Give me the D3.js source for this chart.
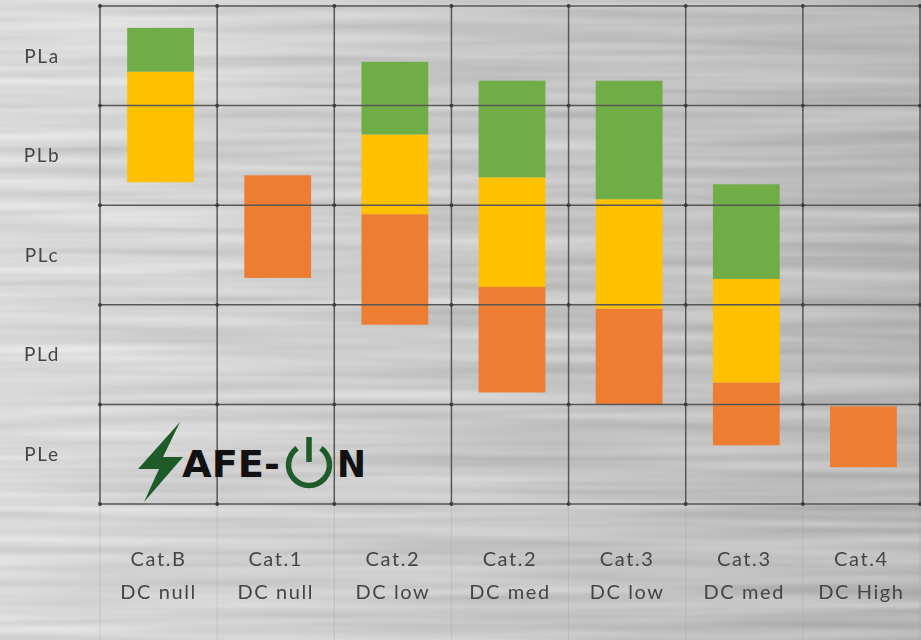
<!DOCTYPE html>
<html>
<head>
<meta charset="utf-8">
<script src="https://cdn.jsdelivr.net/npm/d3@7"></script>
<style>
  html, body { margin: 0; padding: 0; background: #cfcfcf; }
  svg { display: block; }
</style>
</head>
<body>
<svg id="chart" width="921" height="640"></svg>
<script>
// Performance levels (top to bottom) and the seven architecture columns
const levels = ["PLa", "PLb", "PLc", "PLd", "PLe"];
const catLabels = ["Cat.B", "Cat.1", "Cat.2", "Cat.2", "Cat.3", "Cat.3", "Cat.4"];
const dcLabels = ["DC null", "DC null", "DC low", "DC med", "DC low", "DC med", "DC High"];

// Floating ranges per column on a 0..5 level scale (0 = bottom of PLe, 5 = top of PLa)
const orangeRange = [null, [2.27, 3.30], [1.80, 2.91], [1.12, 2.18], [1.00, 1.96], [0.59, 1.22], [0.37, 0.98]];
const yellowRange = [[3.23, 4.34], null, [2.91, 3.71], [2.18, 3.28], [1.96, 3.06], [1.22, 2.26], null];
const greenRange  = [[4.34, 4.78], null, [3.71, 4.44], [3.28, 4.25], [3.06, 4.25], [2.26, 3.21], null];

const seriesColors = { orange: "#ED7D31", yellow: "#FFC000", green: "#70AD47" };

const W = 921, H = 640;
const plot = { left: 100, right: 920, top: 6, bottom: 504 };

const svg = d3.select("#chart");
const defs = svg.append("defs");

// brushed-metal backdrop: horizontal gradient plus stretched noise streaks
const bgGrad = defs.append("linearGradient").attr("id", "bgGrad")
  .attr("x1", 0).attr("x2", 1).attr("y1", 0).attr("y2", 0);
[[0, "#dadada"], [0.12, "#d7d7d7"], [0.45, "#cbcbcb"], [0.75, "#c1c1c1"], [1, "#b7b7b7"]]
  .forEach(([o, c]) => bgGrad.append("stop").attr("offset", o).attr("stop-color", c));

const streak = defs.append("filter").attr("id", "streak")
  .attr("x", 0).attr("y", 0).attr("width", 1).attr("height", 1)
  .attr("color-interpolation-filters", "sRGB");
streak.append("feTurbulence").attr("type", "fractalNoise")
  .attr("baseFrequency", "0.003 0.09").attr("numOctaves", 2).attr("seed", 7).attr("result", "noise");
streak.append("feGaussianBlur").attr("in", "noise").attr("stdDeviation", "8 0.7").attr("result", "noiseSoft");
streak.append("feColorMatrix").attr("in", "noiseSoft").attr("type", "matrix")
  .attr("values", "1 0 0 0 0  1 0 0 0 0  1 0 0 0 0  0 0 0 0 1").attr("result", "grey");
streak.append("feComposite").attr("in", "SourceGraphic").attr("in2", "grey")
  .attr("operator", "arithmetic").attr("k1", 0).attr("k2", 1).attr("k3", 0.2).attr("k4", -0.1);

const soft = defs.append("filter").attr("id", "soft")
  .attr("x", "-5%").attr("y", "-5%").attr("width", "110%").attr("height", "110%");
soft.append("feGaussianBlur").attr("stdDeviation", 0.6);

svg.append("rect").attr("width", W).attr("height", H)
  .attr("fill", "url(#bgGrad)").attr("filter", "url(#streak)");

// scales
const x = d3.scaleBand().domain(d3.range(catLabels.length))
  .range([plot.left, plot.right]).paddingInner(0.43).paddingOuter(0.215);
const col = d3.scaleBand().domain(d3.range(catLabels.length))
  .range([plot.left, plot.right]).padding(0);
const y = d3.scaleLinear().domain([0, levels.length]).range([plot.bottom, plot.top]);
const levelCenter = i => y(levels.length - i - 0.5);

// faint column guides running through the label area
const guides = svg.append("g");
d3.range(catLabels.length + 1).forEach(i => {
  const gx = i < catLabels.length ? col(i) : plot.right;
  guides.append("line").attr("x1", gx).attr("x2", gx)
    .attr("y1", plot.bottom).attr("y2", H)
    .attr("stroke", "#a8a8a8").attr("stroke-opacity", 0.4).attr("stroke-width", 1);
});

// bars
const bars = svg.append("g");
const drawSeries = (ranges, color) => {
  bars.selectAll(null)
    .data(ranges.map((r, i) => ({ r, i })).filter(d => d.r))
    .join("rect")
    .attr("x", d => x(d.i) + 2)
    .attr("width", x.bandwidth())
    .attr("y", d => y(d.r[1]))
    .attr("height", d => y(d.r[0]) - y(d.r[1]))
    .attr("fill", color);
};
drawSeries(orangeRange, seriesColors.orange);
drawSeries(yellowRange, seriesColors.yellow);
drawSeries(greenRange, seriesColors.green);

// grid
const grid = svg.append("g").attr("filter", "url(#soft)");
const xs = d3.range(catLabels.length).map(i => col(i)).concat([plot.right]);
const ys = d3.range(levels.length + 1).map(v => y(v));
grid.selectAll(".v").data(xs).join("line")
  .attr("x1", d => d).attr("x2", d => d).attr("y1", plot.top).attr("y2", plot.bottom)
  .attr("stroke", "#575757").attr("stroke-width", 1.5);
grid.selectAll(".h").data(ys).join("line")
  .attr("x1", plot.left).attr("x2", plot.right).attr("y1", d => d).attr("y2", d => d)
  .attr("stroke", "#575757").attr("stroke-width", 1.5);
xs.forEach(gx => ys.forEach(gy => {
  grid.append("circle").attr("cx", gx).attr("cy", gy).attr("r", 1.9).attr("fill", "#3a3a3a");
}));

// level labels
const text = svg.append("g").attr("filter", "url(#soft)")
  .attr("font-family", "Lato, 'Open Sans', sans-serif").attr("fill", "#454545");
text.selectAll(".lv").data(levels).join("text")
  .attr("x", 42).attr("y", (d, i) => levelCenter(i))
  .attr("dy", "0.36em").attr("text-anchor", "middle")
  .attr("font-size", 19).attr("letter-spacing", 1.6)
  .text(d => d);

// column labels
text.selectAll(".cat").data(catLabels).join("text")
  .attr("x", (d, i) => col(i) + col.bandwidth() / 2).attr("y", 566)
  .attr("text-anchor", "middle").attr("font-size", 20).attr("letter-spacing", 1.6)
  .text(d => d);
text.selectAll(".dc").data(dcLabels).join("text")
  .attr("x", (d, i) => col(i) + col.bandwidth() / 2).attr("y", 599)
  .attr("text-anchor", "middle").attr("font-size", 20).attr("letter-spacing", 1.6)
  .text(d => d);

// SAFE-ON logo
const logo = svg.append("g").attr("transform", "translate(138,420)");
const logoGreen = "#1f5a29";
logo.append("path")
  .attr("d", "M42,2 L25,37 L45,37 L6,82 L21,49 L0,49 Z")
  .attr("fill", logoGreen);
logo.append("text").attr("x", 44).attr("y", 57)
  .attr("font-family", "'DejaVu Sans', sans-serif").attr("font-weight", "bold")
  .attr("font-size", 38).attr("fill", "#111").attr("textLength", 98).attr("lengthAdjust", "spacingAndGlyphs")
  .text("AFE-");
const pc = { x: 171, y: 45, r: 20.5 };
const arc = d3.arc().innerRadius(pc.r - 2.8).outerRadius(pc.r + 2.8)
  .startAngle(0.62).endAngle(2 * Math.PI - 0.62);
logo.append("path").attr("transform", `translate(${pc.x},${pc.y})`)
  .attr("d", arc()).attr("fill", logoGreen);
logo.append("line").attr("x1", pc.x).attr("x2", pc.x).attr("y1", 17).attr("y2", 42)
  .attr("stroke", logoGreen).attr("stroke-width", 5.5);
logo.append("text").attr("x", 199).attr("y", 57)
  .attr("font-family", "'DejaVu Sans', sans-serif").attr("font-weight", "bold")
  .attr("font-size", 38).attr("fill", "#111").attr("textLength", 29).attr("lengthAdjust", "spacingAndGlyphs")
  .text("N");
</script>
</body>
</html>
